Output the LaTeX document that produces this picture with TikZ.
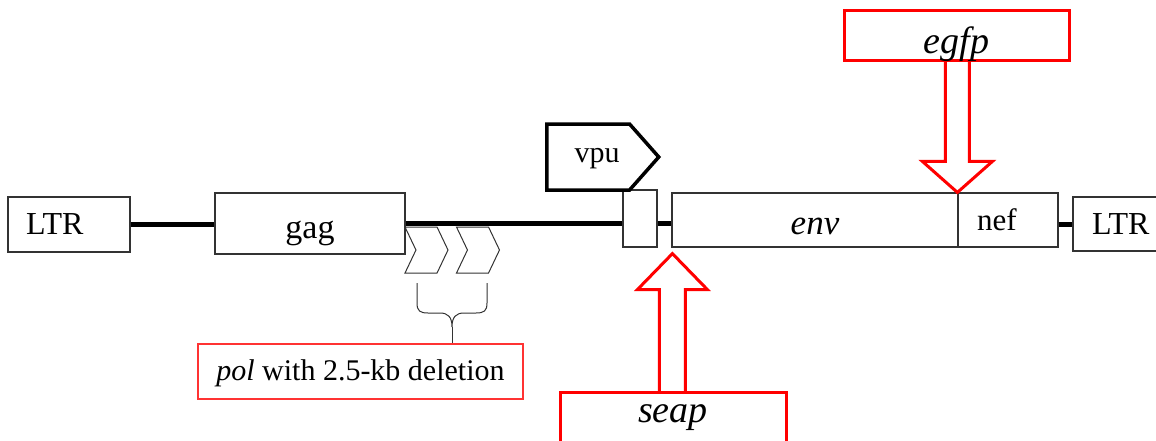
\documentclass[tikz,border=0pt]{standalone}
\usepackage{fontspec}
\setmainfont{Liberation Serif}
\usetikzlibrary{shapes.symbols}
\tikzset{
	gene/.style={draw=black!80, line width=1.2pt, fill=white, inner sep=0pt, text height=20pt, text depth=0pt, font=\fontsize{30}{30}\selectfont},
	ltrbox/.style={gene, align=left, inner xsep=18pt},
	backbone/.style={line width=5pt},
	chevron/.style={draw=black!80, line width=1pt, shape=signal, signal from=west, signal to=east, signal pointer angle=129, minimum width=43pt, minimum height=46pt, inner sep=0pt},
	brace/.style={draw=black!80, line width=1pt},
	insbox/.style={draw=red, line width=3pt, fill=white, inner sep=0pt},
	insarrow/.style={draw=red, line width=3pt, fill=white, line join=miter},
	insname/.style={anchor=base, inner sep=0pt, font=\fontsize{38}{38}\selectfont\itshape},
}
\begin{document}
\begin{tikzpicture}[x=1pt, y=-1pt]
		\useasboundingbox (0,0) rectangle (1156,440);
		\node[ltrbox, text width=86pt, minimum height=55pt, font=\fontsize{32}{32}\selectfont] (ltrL) at (69,224.5) {LTR};
		\node[gene, minimum width=190pt, minimum height=61pt, text height=29pt, font=\fontsize{34}{34}\selectfont] (gag) at (310,223.5) {gag};
		\node[gene, minimum width=34pt, minimum height=57pt] (small) at (640,218.5) {};
		\node[gene, minimum width=286pt, minimum height=54pt, text height=28pt, font=\fontsize{35}{35}\selectfont\itshape] (env) at (815,220) {env};
		\node[ltrbox, inner xsep=19pt, text width=62pt, minimum height=54pt, font=\fontsize{31}{31}\selectfont] (nef) at (1008,220) {nef};
		\node[ltrbox, inner xsep=19pt, text width=62pt, minimum height=54pt, font=\fontsize{32}{32}\selectfont] (ltrR) at (1123,224) {LTR};
		\node[gene, shape=signal, signal to=east, signal pointer angle=97, line width=3.5pt, draw=black, minimum width=112pt, minimum height=66pt, text height=10pt, anchor=west] (vpu) at (545,157) {\hspace*{18pt}vpu};
		\draw[backbone] (ltrL.east) -- (ltrL.east -| gag.west);
		\draw[backbone] (gag.east) -- (gag.east -| small.west);
		\draw[backbone] (small.east |- gag.east) -- (gag.east -| env.west);
		\draw[backbone] (nef.east |- ltrR.west) -- (ltrR.west);
		\node[chevron] (polA) at (426.5,250) {};
		\node[chevron] (polB) at (478,250) {};
		\coordinate (bracetip) at (452,327);
		\draw[brace] (417,283) -- (417,303) .. controls (417,311) and (420,313) .. (428,313) -- (440,313) .. controls (448,313) and (452,317) .. (bracetip) .. controls (452,317) and (456,313) .. (464,313) -- (476,313) .. controls (484,313) and (487,311) .. (487,303) -- (487,283);
		\node[gene, draw=red!80, line width=1.5pt, minimum width=325pt, minimum height=55pt, text height=17pt] (pol) at (360.5,371.5) {\textit{pol} with 2.5-kb deletion};
		\draw[brace] (bracetip) -- (bracetip |- pol.north);
		\draw[insarrow] (nef.north west) -- ++(35,-31) -- ++(-23,0) -- ++(0,-102) -- ++(-24,0) -- ++(0,102) -- ++(-23,0) -- cycle;
		\node[insbox, minimum width=225pt, minimum height=50pt] (egfp) at (956.5,35) {};
		\node[insname] (egfplabel) at (956.5,53) {egfp};
		\coordinate (seaptip) at ([shift={(1,6)}]env.south west);
		\draw[insarrow] (seaptip) -- ++(35,36) -- ++(-22,0) -- ++(0,103) -- ++(-26,0) -- ++(0,-103) -- ++(-22,0) -- cycle;
		\node[insbox, minimum width=226pt, minimum height=60pt] (seap) at (673,422) {};
		\node[insname] (seaplabel) at (673,422) {seap};
		\end{tikzpicture}
\end{document}
